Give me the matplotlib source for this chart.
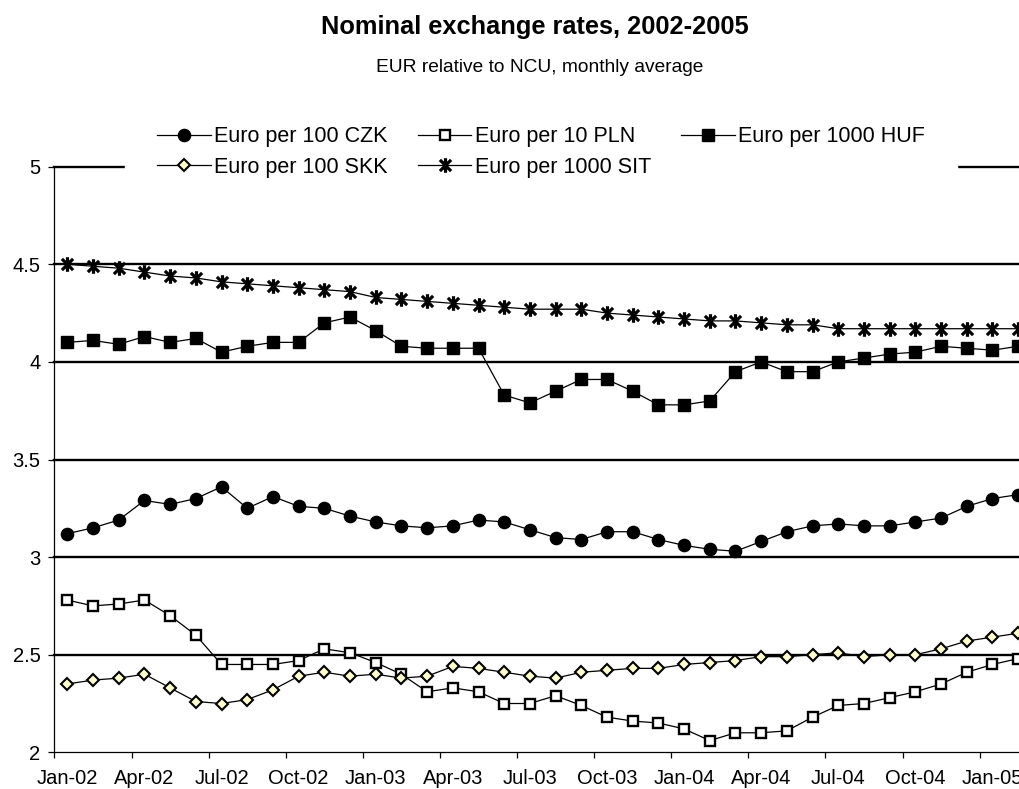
"""
Nominal exchange rates 2002-2005, EUR relative to NCU (Excel-style line chart).
"""

import numpy as np
import pandas as pd
import matplotlib
matplotlib.use("Agg")
import matplotlib.pyplot as plt
from matplotlib.path import Path

plt.rcParams["font.family"] = ["Liberation Sans", "DejaVu Sans"]

months = pd.date_range("2002-01-01", periods=38, freq="MS").strftime("%b-%y").tolist()

czk = [3.12, 3.15, 3.19, 3.29, 3.27, 3.30, 3.36, 3.25, 3.31, 3.26, 3.25, 3.21,
       3.18, 3.16, 3.15, 3.16, 3.19, 3.18, 3.14, 3.10, 3.09, 3.13, 3.13, 3.09,
       3.06, 3.04, 3.03, 3.08, 3.13, 3.16, 3.17, 3.16, 3.16, 3.18, 3.20, 3.26,
       3.30, 3.32]
pln = [2.78, 2.75, 2.76, 2.78, 2.70, 2.60, 2.45, 2.45, 2.45, 2.47, 2.53, 2.51,
       2.46, 2.40, 2.31, 2.33, 2.31, 2.25, 2.25, 2.29, 2.24, 2.18, 2.16, 2.15,
       2.12, 2.06, 2.10, 2.10, 2.11, 2.18, 2.24, 2.25, 2.28, 2.31, 2.35, 2.41,
       2.45, 2.48]
huf = [4.10, 4.11, 4.09, 4.13, 4.10, 4.12, 4.05, 4.08, 4.10, 4.10, 4.20, 4.23,
       4.16, 4.08, 4.07, 4.07, 4.07, 3.83, 3.79, 3.85, 3.91, 3.91, 3.85, 3.78,
       3.78, 3.80, 3.95, 4.00, 3.95, 3.95, 4.00, 4.02, 4.04, 4.05, 4.08, 4.07,
       4.06, 4.08]
skk = [2.35, 2.37, 2.38, 2.40, 2.33, 2.26, 2.25, 2.27, 2.32, 2.39, 2.41, 2.39,
       2.40, 2.38, 2.39, 2.44, 2.43, 2.41, 2.39, 2.38, 2.41, 2.42, 2.43, 2.43,
       2.45, 2.46, 2.47, 2.49, 2.49, 2.50, 2.51, 2.49, 2.50, 2.50, 2.53, 2.57,
       2.59, 2.61]
sit = [4.50, 4.49, 4.48, 4.46, 4.44, 4.43, 4.41, 4.40, 4.39, 4.38, 4.37, 4.36,
       4.33, 4.32, 4.31, 4.30, 4.29, 4.28, 4.27, 4.27, 4.27, 4.25, 4.24, 4.23,
       4.22, 4.21, 4.21, 4.20, 4.19, 4.19, 4.17, 4.17, 4.17, 4.17, 4.17, 4.17,
       4.17, 4.17]

labels = ["Euro per 100 CZK", "Euro per 10 PLN", "Euro per 1000 HUF",
          "Euro per 100 SKK", "Euro per 1000 SIT"]
yticks = [2, 2.5, 3, 3.5, 4, 4.5, 5]

# excel style asterisk: an X plus a vertical bar
asterisk = Path([(-1, -1), (1, 1), (-1, 1), (1, -1), (0, -1.3), (0, 1.3)],
                [Path.MOVETO, Path.LINETO, Path.MOVETO, Path.LINETO, Path.MOVETO, Path.LINETO])

W, H = 1020, 789
fig = plt.figure(figsize=(W / 100, H / 100), dpi=100)
# plot area runs a little past the right edge of the picture, as in the original
ax = fig.add_axes([54.5 / W, (H - 752.3) / H, 976.5 / W, (752.3 - 166.7) / H])

x = np.arange(len(months))
lw = 0.9
h_czk, = ax.plot(x, czk, color="black", lw=lw, marker="o", ms=8.8,
                 mfc="black", mec="black", label=labels[0])
h_pln, = ax.plot(x, pln, color="black", lw=lw, marker="s", ms=7.8,
                 mfc="white", mec="black", mew=1.7, label=labels[1])
h_huf, = ax.plot(x, huf, color="black", lw=lw, marker="s", ms=9.0,
                 mfc="black", mec="black", label=labels[2])
h_skk, = ax.plot(x, skk, color="black", lw=lw, marker="D", ms=6.2,
                 mfc="#FFFFCC", mec="black", mew=1.5, label=labels[3])
h_sit, = ax.plot(x, sit, color="black", lw=lw, marker=asterisk, ms=10.5,
                 mfc="none", mec="black", mew=2.3, label=labels[4])

for v in yticks[1:]:
    ax.axhline(v, color="black", lw=1.7, zorder=1, clip_on=False)

ax.set_xlim(-0.5, len(months) - 0.5)
ax.set_ylim(2, 5)
ax.set_yticks(yticks)
ax.set_yticklabels([f"{v:g}" for v in yticks])

ax.set_xticks(np.arange(-0.5, len(months), 3))
ax.set_xticklabels([])
ax.set_xticks(x[::3], minor=True)
ax.set_xticklabels([months[i] for i in x[::3]], minor=True)
ax.tick_params(axis="x", which="major", length=4, width=0.9, direction="out")
ax.tick_params(axis="x", which="minor", length=0, pad=12, labelsize=14.5)
ax.tick_params(axis="y", length=4, width=0.9, direction="out", pad=6, labelsize=14.5)

for side in ["top", "right"]:
    ax.spines[side].set_visible(False)
for side in ["left", "bottom"]:
    ax.spines[side].set_linewidth(0.9)

fig.text(0.524, 1 - 27 / H, "Nominal exchange rates, 2002-2005", ha="center", va="center",
         fontsize=18.3, fontweight="bold")
fig.text(0.529, 1 - 68 / H, "EUR relative to NCU, monthly average", ha="center", va="center",
         fontsize=13.8)

# column-wise legend fill: CZK/SKK, PLN/SIT, HUF
leg = fig.legend([h_czk, h_skk, h_pln, h_sit, h_huf],
                 [labels[0], labels[3], labels[1], labels[4], labels[2]],
                 ncol=3, loc="center", bbox_to_anchor=(541 / W, 1 - 152 / H),
                 fontsize=15.5, frameon=True, fancybox=False, edgecolor="white",
                 facecolor="white", framealpha=1, handlelength=2.5, handletextpad=0.15,
                 columnspacing=1.4, labelspacing=0.45, borderpad=1.5)

fig.savefig("out.png", dpi=100)
